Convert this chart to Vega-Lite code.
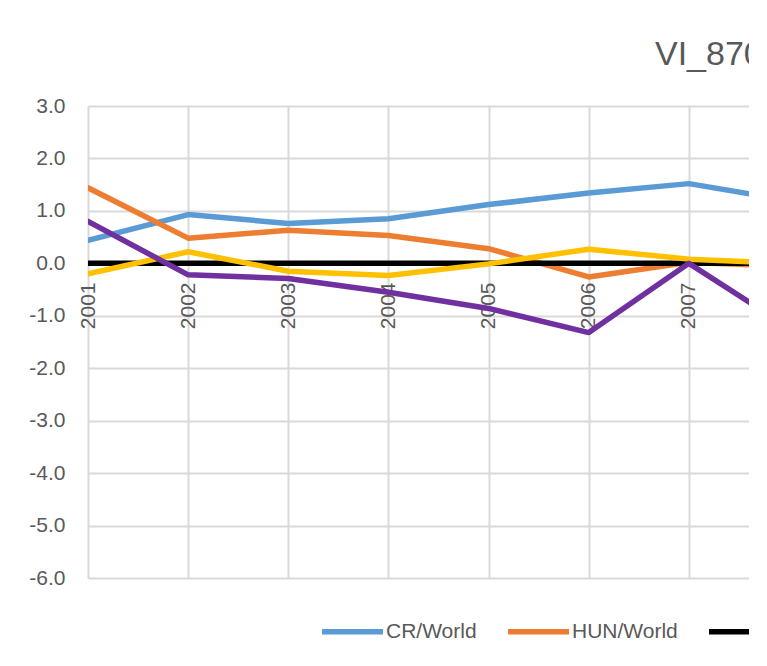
{
  "$schema": "https://vega.github.io/schema/vega-lite/v6.json",
  "autosize": "none",
  "padding": {"left": 88, "top": 106, "right": 0, "bottom": 88},
  "width": 661,
  "height": 472,
  "background": "white",
  "title": {
    "text": "VI_870",
    "anchor": "start",
    "frame": "group",
    "dx": 567,
    "dy": 45,
    "offset": 41,
    "baseline": "alphabetic",
    "font": "Liberation Sans",
    "fontSize": 34,
    "fontWeight": "normal",
    "color": "#595959"
  },
  "data": {
    "values": [
      {"year": 2001, "series": "CR/World", "value": 0.44},
      {"year": 2002, "series": "CR/World", "value": 0.93},
      {"year": 2003, "series": "CR/World", "value": 0.76},
      {"year": 2004, "series": "CR/World", "value": 0.85},
      {"year": 2005, "series": "CR/World", "value": 1.12},
      {"year": 2006, "series": "CR/World", "value": 1.34},
      {"year": 2007, "series": "CR/World", "value": 1.52},
      {"year": 2008, "series": "CR/World", "value": 1.20},
      {"year": 2001, "series": "HUN/World", "value": 1.44},
      {"year": 2002, "series": "HUN/World", "value": 0.48},
      {"year": 2003, "series": "HUN/World", "value": 0.63},
      {"year": 2004, "series": "HUN/World", "value": 0.53},
      {"year": 2005, "series": "HUN/World", "value": 0.28},
      {"year": 2006, "series": "HUN/World", "value": -0.26},
      {"year": 2007, "series": "HUN/World", "value": 0.02},
      {"year": 2008, "series": "HUN/World", "value": -0.06},
      {"year": 2001, "series": "World", "value": 0},
      {"year": 2002, "series": "World", "value": 0},
      {"year": 2003, "series": "World", "value": 0},
      {"year": 2004, "series": "World", "value": 0},
      {"year": 2005, "series": "World", "value": 0},
      {"year": 2006, "series": "World", "value": 0},
      {"year": 2007, "series": "World", "value": 0},
      {"year": 2008, "series": "World", "value": 0},
      {"year": 2001, "series": "PL/World", "value": -0.20},
      {"year": 2002, "series": "PL/World", "value": 0.22},
      {"year": 2003, "series": "PL/World", "value": -0.15},
      {"year": 2004, "series": "PL/World", "value": -0.23},
      {"year": 2005, "series": "PL/World", "value": -0.01},
      {"year": 2006, "series": "PL/World", "value": 0.27},
      {"year": 2007, "series": "PL/World", "value": 0.08},
      {"year": 2008, "series": "PL/World", "value": 0.00},
      {"year": 2001, "series": "SK/World", "value": 0.80},
      {"year": 2002, "series": "SK/World", "value": -0.22},
      {"year": 2003, "series": "SK/World", "value": -0.29},
      {"year": 2004, "series": "SK/World", "value": -0.55},
      {"year": 2005, "series": "SK/World", "value": -0.86},
      {"year": 2006, "series": "SK/World", "value": -1.32},
      {"year": 2007, "series": "SK/World", "value": 0.00},
      {"year": 2008, "series": "SK/World", "value": -1.23}
    ]
  },
  "mark": {"type": "line", "strokeWidth": 5.5, "strokeCap": "round", "strokeJoin": "round", "clip": true},
  "encoding": {
    "x": {
      "field": "year",
      "type": "quantitative",
      "scale": {"domain": [2001, 2007.6], "nice": false, "zero": false},
      "axis": {
        "title": null,
        "values": [2001, 2002, 2003, 2004, 2005, 2006, 2007],
        "format": "d",
        "orient": "bottom",
        "offset": -315,
        "labelAngle": -90,
        "labelPadding": 19,
        "labelFlush": false,
        "labelOverlap": false,
        "ticks": false,
        "domain": false,
        "grid": true
      }
    },
    "y": {
      "field": "value",
      "type": "quantitative",
      "scale": {"domain": [-6, 3], "nice": false},
      "axis": {
        "title": null,
        "values": [-6, -5, -4, -3, -2, -1, 0, 1, 2, 3],
        "labelExpr": "datum.value < 0 ? '-' + format(-datum.value, '.1f') : format(datum.value, '.1f')",
        "labelPadding": 23,
        "ticks": false,
        "domain": false,
        "grid": true
      }
    },
    "color": {
      "field": "series",
      "type": "nominal",
      "sort": null,
      "scale": {
        "domain": ["CR/World", "HUN/World", "World", "PL/World", "SK/World"],
        "range": ["#5B9BD5", "#ED7D31", "#000000", "#FFC000", "#7030A0"]
      },
      "legend": {
        "title": null,
        "orient": "none",
        "direction": "horizontal",
        "legendX": 231,
        "legendY": 492,
        "symbolType": "stroke",
        "symbolSize": 3721,
        "symbolStrokeWidth": 5.5,
        "labelOffset": 0,
        "columnPadding": 20,
        "labelFont": "Liberation Sans",
        "labelFontSize": 21,
        "labelColor": "#595959"
      }
    }
  },
  "config": {
    "view": {"stroke": null},
    "axis": {
      "labelFont": "Liberation Sans",
      "labelFontSize": 21,
      "labelColor": "#595959",
      "gridColor": "#D9D9D9",
      "gridWidth": 2
    }
  }
}
